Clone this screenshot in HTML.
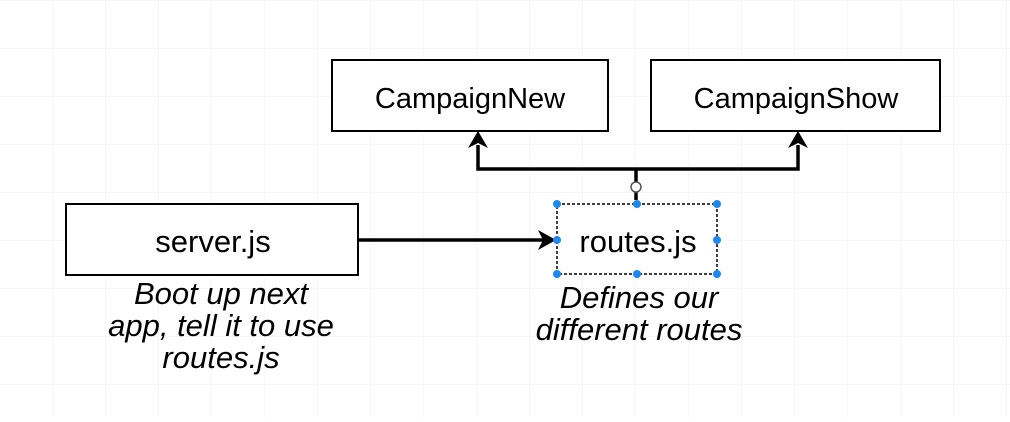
<!DOCTYPE html>
<html><head><style>
body{margin:0;background:#fff;}
</style></head><body>
<svg width="1010" height="417" xmlns="http://www.w3.org/2000/svg" font-family="Liberation Sans, sans-serif">
<defs>
<pattern id="g" width="53" height="48" patternUnits="userSpaceOnUse" x="0" y="1">
<path d="M53 0V48M0 48H53" stroke="#eee" stroke-width="1" fill="none"/>
</pattern>
</defs>
<rect width="1010" height="417" fill="url(#g)"/>
<g fill="#fff" stroke="#000" stroke-width="2">
<rect x="332" y="60" width="276" height="71"/>
<rect x="651" y="60" width="289" height="71"/>
<rect x="66" y="204" width="292" height="71"/>
</g>
<rect x="557" y="204" width="160" height="70" fill="#fff" stroke="#000" stroke-width="1.5" stroke-dasharray="3,2"/>
<g stroke="#000" stroke-width="3.5" fill="none">
<path d="M478 145V169H798V145"/>
<path d="M636 169V200"/>
<path d="M358 240H545"/>
</g>
<g fill="#000">
<path d="M478 131L468 148L478 143L488 148Z"/>
<path d="M798 131L788 148L798 143L808 148Z"/>
<path d="M556 240L538 230L543 240L538 250Z"/>
</g>
<circle cx="636" cy="187" r="5" fill="#fff" stroke="#555" stroke-width="1.5"/>
<g fill="#1e88f0">
<circle cx="557" cy="204" r="4"/><circle cx="637" cy="204" r="4"/><circle cx="717" cy="204" r="4"/>
<circle cx="557" cy="240" r="4"/><circle cx="717" cy="240" r="4"/>
<circle cx="557" cy="274" r="4"/><circle cx="637" cy="274" r="4"/><circle cx="717" cy="274" r="4"/>
</g>
<g font-size="29" text-anchor="middle" fill="#000">
<text x="470" y="108">CampaignNew</text>
<text x="796" y="108">CampaignShow</text>
</g>
<g font-size="31" text-anchor="middle" fill="#000">
<text x="213" y="252">server.js</text>
<text x="638" y="252">routes.js</text>
</g>
<g font-size="31" font-style="italic" text-anchor="middle" fill="#000">
<text x="221" y="304">Boot up next</text>
<text x="221" y="336">app, tell it to use</text>
<text x="221" y="368">routes.js</text>
<text x="639" y="308">Defines our</text>
<text x="639" y="340">different routes</text>
</g>
</svg>
</body></html>
